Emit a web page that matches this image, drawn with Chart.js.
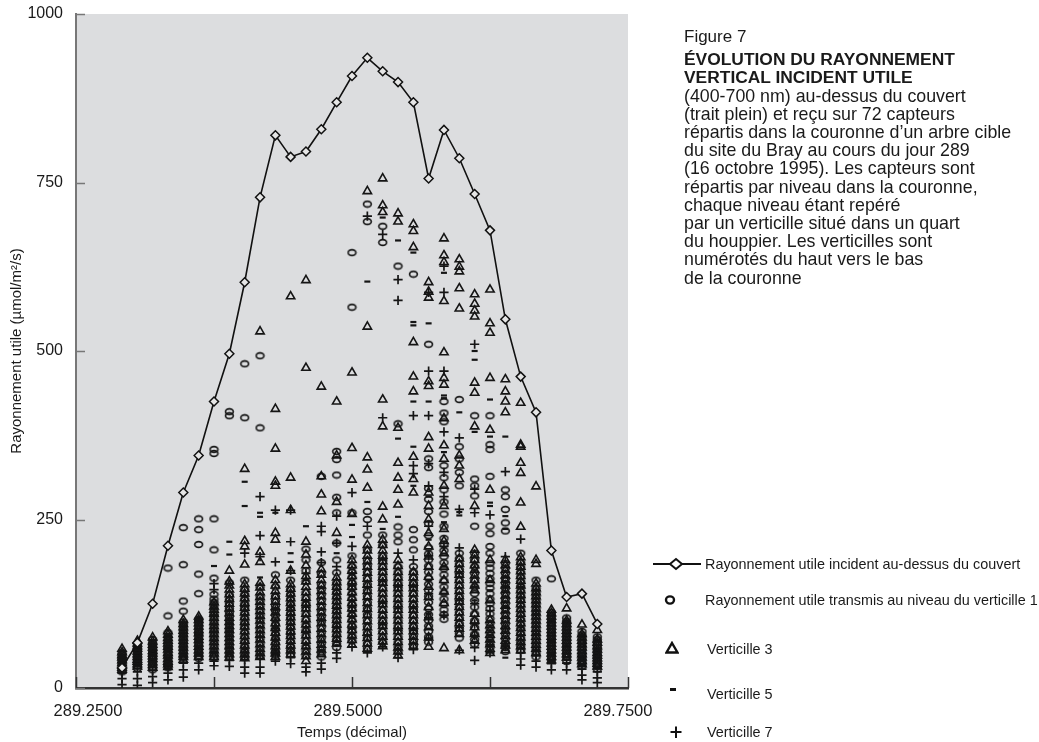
<!DOCTYPE html>
<html><head><meta charset="utf-8">
<script src="https://cdn.jsdelivr.net/npm/chart.js@4.4.0/dist/chart.umd.min.js"></script>
<style>
html,body{margin:0;padding:0;background:#fff;}
#wrap{position:relative;width:1039px;height:742px;overflow:hidden;font-family:"Liberation Sans",Arial,sans-serif;color:#1a1a1a;}
#c{position:absolute;left:0;top:0;}
#cap{position:absolute;left:684px;top:28px;font-size:17.8px;line-height:18.2px;white-space:nowrap;}
#cap .fig{font-size:17px;margin-bottom:4px;}
#cap .ttl{font-weight:bold;font-size:17.4px;}
.lt{position:absolute;font-size:14.4px;line-height:16px;white-space:nowrap;}
.ls{position:absolute;}
</style></head><body>
<div id="wrap">
<canvas id="c" width="1039" height="742"></canvas>
<div id="cap">
<div class="fig">Figure 7</div>
<div class="ttl">ÉVOLUTION DU RAYONNEMENT<br>VERTICAL INCIDENT UTILE</div>
<div>(400-700 nm) au-dessus du couvert<br>(trait plein) et reçu sur 72 capteurs<br>répartis dans la couronne d’un arbre cible<br>du site du Bray au cours du jour 289<br>(16 octobre 1995). Les capteurs sont<br>répartis par niveau dans la couronne,<br>chaque niveau étant repéré<br>par un verticille situé dans un quart<br>du houppier. Les verticilles sont<br>numérotés du haut vers le bas<br>de la couronne</div>
</div>
<svg class="ls" style="left:653px;top:556px" width="48" height="16"><line x1="0" y1="8" x2="48" y2="8" stroke="#111" stroke-width="2"/><polygon points="17,8 23,3 29,8 23,13" fill="#fff" stroke="#111" stroke-width="2"/></svg>
<div class="lt" style="left:705px;top:556px">Rayonnement utile incident au-dessus du couvert</div>
<svg class="ls" style="left:663px;top:593px" width="14" height="14"><ellipse cx="7" cy="7" rx="4" ry="3.6" fill="none" stroke="#111" stroke-width="2.4"/></svg>
<div class="lt" style="left:705px;top:592px">Rayonnement utile transmis au niveau du verticille 1</div>
<svg class="ls" style="left:665px;top:641px" width="14" height="14"><polygon points="7,2 12.5,11.5 1.5,11.5" fill="none" stroke="#111" stroke-width="2.4"/></svg>
<div class="lt" style="left:707px;top:641px">Verticille 3</div>
<svg class="ls" style="left:667px;top:684px" width="12" height="12"><rect x="3" y="4" width="6" height="3" fill="#111"/></svg>
<div class="lt" style="left:707px;top:686px">Verticille 5</div>
<svg class="ls" style="left:669px;top:725px" width="14" height="14"><line x1="1.5" y1="7" x2="12.5" y2="7" stroke="#111" stroke-width="2"/><line x1="7" y1="1.5" x2="7" y2="13" stroke="#111" stroke-width="2"/></svg>
<div class="lt" style="left:707px;top:724px">Verticille 7</div>
</div>
<script>
// ---- data (temps décimal, jour 289, pas de 20 min de 7h00 à 17h20) ----
const times = [289.2917, 289.3056, 289.3194, 289.3333, 289.3472, 289.3611, 289.3750, 289.3889,
  289.4028, 289.4167, 289.4306, 289.4444, 289.4583, 289.4722, 289.4861, 289.5000,
  289.5139, 289.5278, 289.5417, 289.5556, 289.5694, 289.5833, 289.5972, 289.6111,
  289.6250, 289.6389, 289.6528, 289.6667, 289.6806, 289.6944, 289.7083, 289.7222];

const incident = [30, 67, 125, 211, 290, 345, 425, 496, 602, 728, 820, 788, 796, 829, 869, 908,
  935, 915, 899, 869, 756, 828, 786, 733, 679, 547, 462, 409, 204, 135, 140, 95];

// Verticille 1 (cercles)
const verticille1 = [
  [24, 28, 31, 35, 38, 42, 45, 49, 52],
  [29, 33, 36, 40, 44, 48, 52, 56, 60, 65],
  [27, 31, 35, 39, 43, 47, 51, 55, 59, 63, 67, 72],
  [178, 107, 82, 76, 71, 66, 62, 57, 52, 48, 44, 39, 35, 30],
  [238, 183, 129, 114, 98, 94, 89, 84, 79, 74, 69, 64, 59, 54, 49, 45],
  [251, 235, 213, 169, 140, 102, 97, 92, 87, 82, 77, 72, 67, 62, 57, 52, 48, 44],
  [354, 348, 251, 205, 163, 139, 132, 127, 122, 116, 110, 104, 98, 92, 86, 80, 74, 68, 62, 56, 50, 45],
  [410, 404, 156, 138, 131, 125, 118, 112, 106, 100, 94, 88, 82, 76, 70, 64, 58, 52, 47],
  [481, 401, 160, 146, 139, 132, 125, 118, 111, 104, 97, 90, 83, 76, 69, 62, 56, 50, 45],
  [493, 386, 150, 136, 129, 122, 115, 108, 101, 94, 87, 80, 73, 66, 59, 52, 47],
  [168, 150, 136, 129, 122, 115, 108, 101, 94, 87, 80, 73, 66, 60, 54, 49],
  [160, 146, 139, 132, 125, 118, 111, 104, 97, 90, 83, 76, 69, 62, 56, 50],
  [206, 190, 174, 158, 142, 134, 126, 118, 110, 102, 94, 86, 78, 70, 62, 55, 48],
  [314, 186, 170, 154, 146, 138, 130, 122, 114, 106, 98, 90, 82, 74, 66, 58, 52, 46],
  [351, 339, 316, 283, 260, 215, 190, 171, 156, 149, 142, 135, 128, 121, 114, 107, 100, 93, 86, 79, 72, 66, 60],
  [646, 565, 260, 196, 180, 172, 164, 156, 148, 140, 132, 124, 116, 108, 100, 92, 84, 77, 70],
  [718, 692, 262, 250, 227, 205, 190, 181, 172, 163, 154, 145, 136, 127, 118, 109, 100, 91, 82, 74, 66, 59],
  [685, 661, 227, 212, 196, 188, 180, 172, 164, 156, 148, 140, 132, 124, 116, 108, 100, 92, 84, 76, 68],
  [626, 392, 239, 227, 217, 180, 172, 164, 156, 148, 140, 132, 124, 116, 108, 100, 92, 84, 76, 68, 61, 54],
  [614, 235, 220, 205, 180, 172, 164, 156, 148, 140, 132, 124, 116, 108, 100, 92, 84, 77, 70, 63],
  [510, 340, 327, 296, 280, 262, 244, 226, 208, 199, 190, 181, 172, 163, 154, 145, 136, 127, 118, 109, 100, 92, 84, 76, 68],
  [425, 408, 395, 330, 312, 294, 276, 258, 240, 222, 213, 204, 195, 186, 177, 168, 159, 150, 141, 132, 124, 116, 109, 102],
  [428, 358, 340, 320, 300, 200, 192, 184, 176, 168, 160, 152, 144, 136, 128, 120, 112, 104, 96, 88, 81, 74],
  [404, 310, 300, 285, 240, 200, 190, 180, 170, 160, 150, 140, 130, 120, 110, 100, 90, 80, 72, 65],
  [404, 361, 354, 314, 240, 229, 210, 200, 185, 178, 170, 162, 155, 148, 140, 132, 125, 118, 110, 103, 96, 89, 82, 75, 68, 60],
  [294, 284, 265, 245, 233, 185, 178, 170, 162, 155, 148, 140, 132, 125, 118, 110, 102, 95, 88, 80, 73, 66, 60, 54],
  [200, 186, 179, 172, 165, 158, 151, 144, 137, 130, 123, 116, 109, 102, 95, 88, 81, 74, 68, 62, 56],
  [160, 148, 142, 136, 130, 124, 118, 112, 106, 100, 94, 88, 82, 76, 70, 64, 58, 52, 46],
  [162, 112, 107, 102, 97, 92, 87, 82, 77, 72, 67, 62, 57, 52, 47, 42],
  [104, 99, 95, 90, 85, 80, 75, 70, 65, 60, 55, 50, 46, 41],
  [84, 79, 75, 70, 66, 61, 57, 52, 48, 44, 40, 36, 32],
  [76, 72, 68, 64, 60, 56, 52, 48, 44, 40, 36, 32, 28]
];

// Verticille 3 (triangles)
const verticille3 = [
  [58, 53, 49, 45, 41, 37, 33, 30, 27],
  [70, 66, 62, 58, 54, 50, 46, 42, 39, 35, 32],
  [75, 69, 64, 60, 55, 51, 47, 43, 38, 34, 30],
  [84, 79, 74, 70, 66, 61, 57, 52, 48, 43, 39, 35, 31],
  [101, 95, 90, 85, 80, 75, 70, 65, 60, 55, 50, 46, 42],
  [106, 101, 96, 91, 86, 81, 76, 71, 66, 61, 56, 51, 46],
  [127, 121, 116, 110, 104, 98, 92, 86, 80, 74, 68, 62, 56, 51, 46],
  [174, 158, 152, 146, 139, 132, 125, 118, 111, 104, 98, 92, 86, 80, 74, 68, 62, 56, 50, 45],
  [325, 218, 210, 183, 154, 147, 140, 133, 126, 119, 112, 105, 98, 91, 84, 77, 70, 63, 56, 50, 44],
  [529, 202, 187, 156, 149, 142, 135, 128, 121, 114, 107, 100, 93, 86, 79, 72, 65, 58, 52, 46],
  [414, 355, 306, 300, 230, 220, 160, 152, 144, 136, 128, 120, 112, 104, 96, 89, 82, 75, 68, 62, 56, 51, 46],
  [581, 312, 264, 174, 154, 147, 140, 133, 126, 119, 112, 105, 98, 91, 84, 77, 70, 63, 56, 50],
  [605, 475, 217, 198, 182, 166, 158, 150, 142, 134, 126, 118, 110, 102, 94, 86, 78, 70, 62, 54, 47, 40],
  [447, 314, 287, 262, 176, 168, 160, 152, 144, 136, 128, 120, 112, 104, 96, 88, 80, 72, 64, 57, 50],
  [425, 345, 276, 230, 164, 157, 150, 143, 136, 129, 122, 115, 108, 101, 94, 87, 80, 73, 66],
  [468, 356, 309, 258, 190, 182, 174, 166, 158, 150, 142, 134, 126, 118, 110, 102, 94, 86, 78, 71, 64],
  [737, 536, 342, 324, 297, 212, 204, 196, 188, 180, 171, 162, 153, 144, 135, 126, 117, 108, 99, 90, 82, 74, 66, 58],
  [756, 716, 706, 428, 388, 269, 250, 220, 212, 204, 196, 188, 180, 172, 164, 156, 148, 140, 132, 124, 116, 108, 100, 92, 84, 76, 69, 62],
  [704, 692, 386, 334, 312, 294, 272, 190, 181, 172, 164, 156, 148, 140, 132, 124, 116, 108, 100, 92, 84, 76, 68, 60, 54, 48],
  [688, 678, 654, 513, 462, 440, 343, 310, 290, 172, 164, 156, 148, 140, 132, 124, 116, 108, 100, 92, 84, 76, 69, 62],
  [602, 588, 579, 455, 448, 372, 355, 290, 270, 250, 230, 210, 195, 180, 165, 150, 135, 120, 105, 90, 75, 61],
  [667, 642, 632, 574, 498, 460, 450, 400, 360, 340, 300, 270, 236, 218, 200, 180, 160, 143, 126, 59],
  [636, 625, 618, 593, 563, 345, 330, 310, 192, 184, 176, 168, 160, 152, 144, 136, 128, 120, 112, 104, 96, 88, 80, 56],
  [584, 570, 560, 551, 453, 438, 388, 270, 205, 197, 190, 182, 175, 167, 160, 152, 145, 110, 100, 90, 80, 70],
  [591, 541, 527, 460, 383, 294, 190, 160, 130, 101, 93, 86, 79, 72, 65, 58, 52],
  [458, 440, 425, 409, 190, 182, 175, 167, 160, 152, 145, 137, 130, 122, 115, 107, 100, 92, 85, 77, 70, 63, 56],
  [423, 361, 358, 334, 319, 275, 239, 194, 187, 180, 173, 166, 159, 152, 145, 138, 131, 124, 117, 110, 103, 96, 89, 82, 75, 68, 62, 56],
  [299, 190, 184, 155, 148, 142, 136, 130, 124, 118, 112, 106, 100, 94, 88, 82, 76, 70, 64, 58, 52],
  [116, 111, 106, 101, 96, 91, 86, 81, 76, 71, 66, 61, 56, 51, 46, 41],
  [118, 100, 95, 90, 85, 80, 75, 70, 65, 60, 55, 50, 45],
  [94, 80, 75, 70, 65, 60, 55, 50, 45, 40, 35],
  [86, 72, 67, 62, 57, 52, 48, 44, 40, 36, 32]
];

// Verticille 5 (tirets)
const verticille5 = [
  [55, 47, 36, 29],
  [66, 50, 41, 34],
  [71, 61, 49, 40, 32],
  [78, 68, 55, 42, 29],
  [97, 86, 67, 57, 47],
  [104, 88, 70, 60, 49],
  [181, 118, 94, 70, 53],
  [217, 198, 128, 96, 72, 50],
  [306, 270, 136, 108, 80, 58],
  [260, 254, 164, 118, 90, 62],
  [260, 140, 100, 72],
  [200, 187, 120, 94, 66],
  [240, 160, 128, 96, 64],
  [148, 116, 84, 56],
  [200, 132, 104, 76],
  [242, 224, 170, 138, 106, 74],
  [603, 276, 168, 132, 96],
  [698, 236, 176, 144, 112, 80],
  [664, 370, 254, 160, 128, 96, 64],
  [646, 543, 538, 425, 358, 300, 160, 128, 96],
  [541, 425, 284, 220, 160, 110],
  [616, 434, 430, 350, 246, 180, 140],
  [409, 261, 256, 140, 100],
  [500, 487, 380, 150, 130],
  [428, 373, 275, 270, 145],
  [373, 255, 236, 120, 45],
  [150, 120, 90],
  [145, 110, 80, 56],
  [100, 70, 50, 40],
  [98, 62, 42, 36],
  [78, 45, 34],
  [70, 56, 30]
];

// Verticille 7 (croix)
const verticille7 = [
  [5, 14, 22, 43],
  [4, 14, 24, 57],
  [8, 17, 26, 53],
  [12, 22, 33, 60],
  [16, 27, 37, 77],
  [27, 37, 80, 100],
  [155, 146, 108, 84, 40, 33],
  [115, 84, 60, 41, 32],
  [200, 121, 94, 66, 42, 31, 22],
  [284, 226, 195, 104, 76, 44, 31, 22],
  [264, 187, 116, 88, 50, 40],
  [264, 217, 174, 108, 80, 45, 36],
  [170, 120, 84, 31, 24],
  [240, 232, 202, 186, 100, 68, 37, 28],
  [255, 215, 180, 118, 90, 52, 44],
  [290, 210, 152, 120, 88, 61],
  [700, 240, 150, 114, 78, 52],
  [673, 401, 190, 158, 126, 94, 61],
  [606, 575, 200, 150, 118, 86, 45],
  [404, 330, 318, 190, 150, 118, 86, 57],
  [587, 470, 404, 333, 300, 240, 196, 140, 104, 74],
  [626, 587, 470, 380, 320, 284, 210, 108],
  [371, 265, 208, 170, 130, 90, 56],
  [510, 295, 260, 125, 95, 78, 60, 41],
  [257, 115, 64, 52],
  [321, 195, 150, 88, 62],
  [221, 134, 78, 52, 43, 34],
  [48, 40, 31],
  [36, 27],
  [37, 27],
  [28, 19, 12],
  [24, 15, 8]
];

const yTicks = [0, 250, 500, 750, 1000];
const xLabelValues = [289.25, 289.5, 289.75];
const xLabels = ['289.2500', '289.5000', '289.7500'];

// ---- build ----
function toPoints(cols) {
  const pts = [];
  cols.forEach((vals, i) => vals.forEach(v => pts.push({x: times[i], y: v})));
  return pts;
}
const ink = '#151515';
function ellipseMarker() {
  const cv = document.createElement('canvas');
  cv.width = 11; cv.height = 9;
  const g = cv.getContext('2d');
  g.strokeStyle = ink; g.lineWidth = 1.6;
  g.beginPath(); g.ellipse(5.5, 4.5, 3.9, 2.9, 0, 0, Math.PI * 2); g.stroke();
  return cv;
}

const AREA = {left: 76, top: 14, right: 628, bottom: 688};
const xLabelOffsets = [12, -4, -10];
const framePlugin = {
  id: 'frame',
  beforeDraw(chart) {
    const {ctx, chartArea: a} = chart;
    ctx.save();
    ctx.fillStyle = '#dcdddf';
    ctx.fillRect(a.left, a.top, a.right - a.left, a.bottom - a.top);
    ctx.restore();
  },
  afterDraw(chart) {
    const {ctx, chartArea: a, scales: {x, y}} = chart;
    ctx.save();
    ctx.strokeStyle = '#777'; ctx.lineWidth = 1.5;
    y.ticks.forEach(t => {
      const py = Math.round(y.getPixelForValue(t.value)) + 0.5;
      ctx.beginPath(); ctx.moveTo(a.left, py); ctx.lineTo(a.left + 9, py); ctx.stroke();
    });
    ctx.strokeStyle = '#333'; ctx.lineWidth = 1.5;
    x.ticks.forEach(t => {
      const px = Math.round(x.getPixelForValue(t.value)) + 0.5;
      ctx.beginPath(); ctx.moveTo(px, a.bottom); ctx.lineTo(px, a.bottom - 11); ctx.stroke();
    });
    ctx.fillStyle = '#1a1a1a';
    ctx.font = '16.5px "Liberation Sans", Arial, sans-serif';
    ctx.textAlign = 'center'; ctx.textBaseline = 'middle';
    xLabelValues.forEach((v, i) => {
      ctx.fillText(xLabels[i], x.getPixelForValue(v) + xLabelOffsets[i], 711);
    });
    ctx.restore();
  }
};

const fontFam = '"Liberation Sans", Arial, sans-serif';
const chart = new Chart(document.getElementById('c'), {
  type: 'scatter',
  data: {
    datasets: [
      {label: 'Rayonnement utile incident au-dessus du couvert',
       data: incident.map((v, i) => ({x: times[i], y: v})),
       showLine: true, borderColor: '#111', borderWidth: 1.6,
       pointStyle: 'rectRot', pointRadius: 4.5, pointBackgroundColor: '#e6e6e6',
       pointBorderColor: '#111', pointBorderWidth: 1.5},
      {label: 'Verticille 1', data: toPoints(verticille1), pointStyle: ellipseMarker(),
       pointRadius: 4, borderColor: ink, backgroundColor: 'rgba(0,0,0,0)'},
      {label: 'Verticille 3', data: toPoints(verticille3), pointStyle: 'triangle',
       pointRadius: 4.8, borderColor: ink, borderWidth: 1.6, backgroundColor: 'rgba(0,0,0,0)'},
      {label: 'Verticille 5', data: toPoints(verticille5), pointStyle: 'line',
       pointRadius: 3, borderColor: ink, borderWidth: 2.2},
      {label: 'Verticille 7', data: toPoints(verticille7), pointStyle: 'cross',
       pointRadius: 4.6, borderColor: ink, borderWidth: 1.7}
    ]
  },
  options: {
    responsive: false, animation: false, devicePixelRatio: 1,
    layout: {padding: {left: AREA.left - 76, top: AREA.top, right: 1039 - AREA.right, bottom: 0}},
    plugins: {legend: {display: false}, tooltip: {enabled: false}},
    scales: {
      x: {type: 'linear', min: 289.25, max: 289.75,
          ticks: {stepSize: 0.125, display: false},
          grid: {display: false, drawTicks: false},
          border: {display: true, color: '#333', width: 2.5},
          title: {display: true, text: 'Temps (décimal)', color: '#1a1a1a',
                  font: {family: fontFam, size: 15}, padding: {top: 0, bottom: 0}},
          afterFit: s => { s.height = 742 - AREA.bottom; s.paddingLeft = 0; s.paddingRight = 0; s.paddingTop = 0; s.paddingBottom = 0; }},
      y: {type: 'linear', min: 0, max: 1000,
          afterBuildTicks: s => { s.ticks = yTicks.map(v => ({value: v})); },
          ticks: {color: '#1a1a1a', padding: 13, callback: v => String(v),
                  font: {family: fontFam, size: 16}},
          grid: {display: false, drawTicks: false},
          border: {display: true, color: '#777', width: 2},
          title: {display: true, text: 'Rayonnement utile (µmol/m²/s)', color: '#1a1a1a',
                  font: {family: fontFam, size: 15}, padding: {top: 8, bottom: 0}},
          afterFit: s => { s.width = 76; s.paddingTop = 0; s.paddingBottom = 0; s.paddingLeft = 0; s.paddingRight = 0; }}
    }
  },
  plugins: [framePlugin]
});
// correct any automatic layout padding so the plot area sits where the reference has it
const ca = chart.chartArea;
const p = chart.options.layout.padding;
const dTop = ca.top - AREA.top, dBottom = AREA.bottom - ca.bottom, dLeft = ca.left - AREA.left, dRight = AREA.right - ca.right;
if (dTop || dBottom || dLeft || dRight) {
  p.top -= dTop; p.bottom = Math.max(0, p.bottom - dBottom); p.left = Math.max(0, p.left - dLeft); p.right -= dRight;
  chart.update();
}
</script>
</body></html>
